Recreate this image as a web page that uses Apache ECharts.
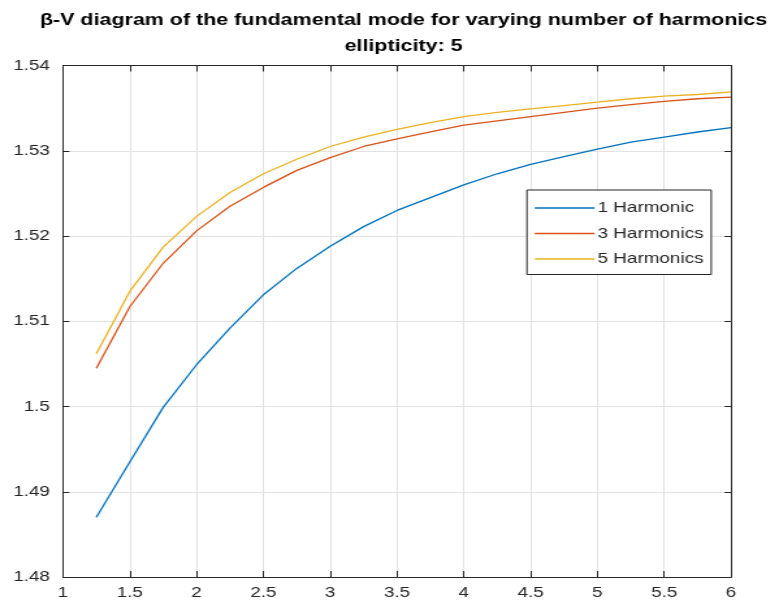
<!DOCTYPE html>
<html>
<head>
<meta charset="utf-8">
<title>β-V diagram</title>
<script src="https://cdn.jsdelivr.net/npm/echarts@6/dist/echarts.min.js"></script>
<style>
  html, body { margin: 0; padding: 0; background: #fff; overflow: hidden; }
  /* The figure is laid out on a narrower canvas and widened horizontally,
     giving the wide-set lettering of the exported figure. */
  #chart {
    width: 599px;
    height: 611px;
    transform: scaleX(1.3005);
    transform-origin: 0 0;
  }
</style>
</head>
<body>
<div id="chart"></div>
<script>
// Normalized frequency V
const vValues = [1.25, 1.5, 1.75, 2, 2.25, 2.5, 2.75, 3, 3.25, 3.5, 3.75, 4,
                 4.25, 4.5, 4.75, 5, 5.25, 5.5, 5.75, 6];

// Propagation constant β for each number of harmonics
const oneHarmonic = [1.4870, 1.4935, 1.4999, 1.5049, 1.5092, 1.5131, 1.5162, 1.5188,
                     1.5211, 1.5230, 1.5245, 1.5260, 1.5273, 1.5284, 1.5293, 1.5302,
                     1.5310, 1.5316, 1.5322, 1.5327];
const threeHarmonics = [1.5045, 1.5117, 1.5168, 1.5206, 1.5235, 1.5257, 1.5277, 1.5292,
                        1.5305, 1.5314, 1.5322, 1.5330, 1.5335, 1.5340, 1.5345, 1.5350,
                        1.5354, 1.5358, 1.5361, 1.5363];
const fiveHarmonics = [1.5062, 1.5135, 1.5187, 1.5223, 1.5251, 1.5273, 1.5290, 1.5305,
                       1.5316, 1.5325, 1.5333, 1.5340, 1.5345, 1.5349, 1.5353, 1.5357,
                       1.5361, 1.5364, 1.5366, 1.5369];

const seriesNames = ['1 Harmonic', '3 Harmonics', '5 Harmonics'];
const seriesColors = ['#0072BD', '#D95319', '#EDB120'];

const xTickInterval = 0.5;
const yTickInterval = 0.01;

const axisColor = '#262626';
const gridColor = '#e3e3e3';
const fontFamily = 'Liberation Sans, Arial, Helvetica, sans-serif';
const tickFontSize = 14.5;

function pairs(ys) { return vValues.map((v, i) => [v, ys[i]]); }
function tickText(v) { return String(+v.toFixed(2)); }

const chart = echarts.init(document.getElementById('chart'), null, { renderer: 'canvas' });

function axis(extra, tickLen) {
  return Object.assign({
    axisLine: { show: true, onZero: false, lineStyle: { color: axisColor, width: 1 } },
    axisTick: { show: true, inside: true, length: tickLen, lineStyle: { color: axisColor } },
    axisLabel: { color: axisColor, fontFamily: fontFamily, fontSize: tickFontSize, formatter: tickText },
    splitLine: { show: true, lineStyle: { color: gridColor, width: 1 } }
  }, extra);
}

chart.setOption({
  animation: false,
  backgroundColor: '#ffffff',
  title: {
    text: 'β-V diagram of the fundamental mode for varying number of harmonics\nellipticity: 5',
    left: 305.3,
    textAlign: 'center',
    top: 2,
    textStyle: {
      fontFamily: fontFamily,
      fontSize: 16.5,
      fontWeight: 'bold',
      color: '#000',
      lineHeight: 26
    }
  },
  grid: { left: 48.4, right: 36.9, top: 65.5, bottom: 34, containLabel: false },
  legend: {
    orient: 'vertical',
    left: 405.2,
    top: 190,
    data: seriesNames,
    icon: 'rect',
    itemWidth: 46,
    itemHeight: 1.4,
    itemGap: 10.5,
    padding: [10.5, 6, 8, 6],
    backgroundColor: '#ffffff',
    borderColor: axisColor,
    borderWidth: 1,
    borderRadius: 0,
    textStyle: { fontFamily: fontFamily, fontSize: 14.5, color: axisColor, padding: [0, 0, 0, -2.7] }
  },
  xAxis: [
    axis({
      type: 'value', min: 1, max: 6, interval: xTickInterval, position: 'bottom',
      axisLabel: { color: axisColor, fontFamily: fontFamily, fontSize: tickFontSize, margin: 8, formatter: tickText }
    }, 6),
    axis({
      type: 'value', min: 1, max: 6, interval: xTickInterval, position: 'top',
      axisLabel: { show: false }, splitLine: { show: false }
    }, 6)
  ],
  yAxis: [
    axis({
      type: 'value', min: 1.48, max: 1.54, interval: yTickInterval, position: 'left',
      axisLabel: { color: axisColor, fontFamily: fontFamily, fontSize: tickFontSize, margin: 10, formatter: tickText }
    }, 5),
    axis({
      type: 'value', min: 1.48, max: 1.54, interval: yTickInterval, position: 'right',
      axisLabel: { show: false }, splitLine: { show: false }
    }, 5)
  ],
  series: [oneHarmonic, threeHarmonics, fiveHarmonics].map((ys, i) => ({
    name: seriesNames[i],
    type: 'line',
    data: pairs(ys),
    showSymbol: false,
    symbol: 'none',
    smooth: false,
    lineStyle: { color: seriesColors[i], width: 1.3 },
    itemStyle: { color: seriesColors[i] },
    xAxisIndex: 0,
    yAxisIndex: 0,
    z: 3
  }))
});
</script>
</body>
</html>
